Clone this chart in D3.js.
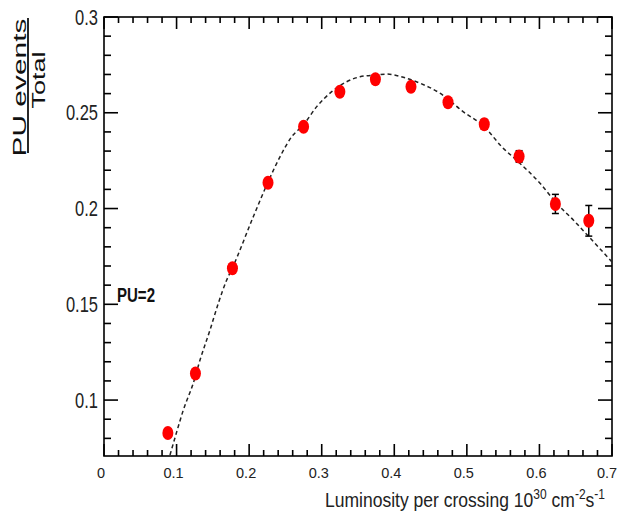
<!DOCTYPE html>
<html><head><meta charset="utf-8">
<script src="https://cdn.jsdelivr.net/npm/d3@7"></script>
<style>body{margin:0;background:#fff} text{font-family:"Liberation Sans",Arial,sans-serif}</style>
</head><body><svg id="c" width="618" height="518"></svg>
<script>
// measured data
const lumi = [0.088,0.126,0.177,0.226,0.275,0.325,0.374,0.423,0.474,0.524,0.572,0.622,0.668];
const ratio = [0.0828,0.1139,0.1688,0.2135,0.2427,0.2610,0.2675,0.2636,0.2555,0.2440,0.2272,0.2024,0.1936];
const ratioErr = [0.002,0.002,0.002,0.002,0.002,0.002,0.002,0.002,0.002,0.0025,0.003,0.005,0.008];
// dashed fit curve
const fitX = [0.0909,0.1002,0.1093,0.1231,0.1323,0.1461,0.1575,0.1691,0.1768,0.2057,0.2256,0.2425,0.2587,0.2747,0.2931,0.3138,0.3344,0.3528,0.3734,0.3896,0.4124,0.4357,0.4630,0.4951,0.5241,0.5480,0.5709,0.6008,0.6238,0.6467,0.6766,0.7000];
const fitY = [0.0713,0.0834,0.0948,0.1089,0.1209,0.1366,0.1505,0.1627,0.1689,0.1957,0.2135,0.2270,0.2375,0.2436,0.2532,0.2610,0.2662,0.2688,0.2697,0.2702,0.2685,0.2654,0.2602,0.2505,0.2427,0.2323,0.2244,0.2132,0.2027,0.1940,0.1818,0.1721];
const xTickValues = [0,0.1,0.2,0.3,0.4,0.5,0.6,0.7];
const xTickLabels = ["0","0.1","0.2","0.3","0.4","0.5","0.6","0.7"];
const yTickValues = [0.1,0.15,0.2,0.25,0.3];
const yTickLabels = ["0.1","0.15","0.2","0.25","0.3"];
const puLabel = "PU=2";

const svg = d3.select("#c");
const x = d3.scaleLinear().domain([0,0.7]).range([104,612]);
const y = d3.scaleLinear().domain([0.0708,0.3]).range([456,17]);
const X0 = x(0), X1 = x(0.7), Y0 = y(0.0708), Y1 = y(0.3);

const xMinor = d3.range(0,0.7001,0.02).map(v=>+v.toFixed(3)).filter(v=>!xTickValues.some(t=>Math.abs(t-v)<1e-6));
const yMinor = d3.range(0.08,0.3001,0.01).map(v=>+v.toFixed(3)).filter(v=>!yTickValues.some(t=>Math.abs(t-v)<1e-6));

const ticks = svg.append("g").attr("stroke","#000").attr("stroke-width",1.6);
function vt(vals,len){
  vals.forEach(v=>{
    ticks.append("line").attr("x1",x(v)).attr("x2",x(v)).attr("y1",Y0).attr("y2",Y0-len);
    ticks.append("line").attr("x1",x(v)).attr("x2",x(v)).attr("y1",Y1).attr("y2",Y1+len);
  });
}
function ht(vals,len){
  vals.forEach(v=>{
    ticks.append("line").attr("y1",y(v)).attr("y2",y(v)).attr("x1",X0).attr("x2",X0+len);
    ticks.append("line").attr("y1",y(v)).attr("y2",y(v)).attr("x1",X1).attr("x2",X1-len);
  });
}
vt(xMinor,6); vt(xTickValues,12); ht(yMinor,7); ht(yTickValues,14);

// tick labels
svg.append("g").selectAll("text").data(xTickValues).join("text")
  .attr("x",(d,i)=>Math.min(x(d)-3, 607)).attr("y",478).attr("text-anchor","middle")
  .attr("font-size",14.5).attr("fill","#222").attr("transform","translate(0,0)").text((d,i)=>xTickLabels[i]);
svg.append("g").selectAll("text").data(yTickValues).join("text")
  .attr("transform",d=>`translate(98,${y(d)}) scale(1,1.32)`).attr("dy","0.35em").attr("text-anchor","end")
  .attr("font-size",16.5).attr("fill","#222").text((d,i)=>yTickLabels[i]);

// frame
svg.append("rect").attr("x",X0).attr("y",Y1).attr("width",X1-X0).attr("height",Y0-Y1)
  .attr("fill","none").attr("stroke","#000").attr("stroke-width",1.6);

// clip
svg.append("clipPath").attr("id","pc").append("rect")
  .attr("x",X0).attr("y",Y1).attr("width",X1-X0).attr("height",Y0-Y1);

// fit curve
const fit = fitX.map((v,i)=>[v,fitY[i]]);
svg.append("path").attr("clip-path","url(#pc)")
  .attr("d",d3.line().x(d=>x(d[0])).y(d=>y(d[1])).curve(d3.curveMonotoneX)(fit))
  .attr("fill","none").attr("stroke","#222").attr("stroke-width",1.5).attr("stroke-dasharray","4,3");

// error bars
const pts = lumi.map((v,i)=>({x:v,y:ratio[i],e:ratioErr[i]}));
const eb = svg.append("g").attr("stroke","#000").attr("stroke-width",1.5);
pts.forEach(p=>{
  eb.append("line").attr("x1",x(p.x)).attr("x2",x(p.x)).attr("y1",y(p.y-p.e)).attr("y2",y(p.y+p.e));
  eb.append("line").attr("x1",x(p.x)-3.5).attr("x2",x(p.x)+3.5).attr("y1",y(p.y-p.e)).attr("y2",y(p.y-p.e));
  eb.append("line").attr("x1",x(p.x)-3.5).attr("x2",x(p.x)+3.5).attr("y1",y(p.y+p.e)).attr("y2",y(p.y+p.e));
});
// markers
svg.append("g").selectAll("ellipse").data(pts).join("ellipse")
  .attr("cx",d=>x(d.x)).attr("cy",d=>y(d.y)).attr("rx",5.5).attr("ry",7).attr("fill","#ff0000");

// PU label
svg.append("text").attr("transform","translate(117,301.5) scale(1,1.4)")
  .attr("font-size",15).attr("font-weight","bold").attr("fill","#111").attr("textLength",38)
  .attr("lengthAdjust","spacingAndGlyphs").text(puLabel);

// x title
const xt = svg.append("text").attr("transform","translate(605,507) scale(1,1.17)")
  .attr("text-anchor","end").attr("font-size",17.5).attr("fill","#222")
  .attr("textLength",280).attr("lengthAdjust","spacingAndGlyphs");
xt.append("tspan").text("Luminosity per crossing 10");
xt.append("tspan").attr("dy",-7).attr("font-size",12).text("30");
xt.append("tspan").attr("dy",7).text(" cm");
xt.append("tspan").attr("dy",-7).attr("font-size",12).text("-2");
xt.append("tspan").attr("dy",7).text("s");
xt.append("tspan").attr("dy",-7).attr("font-size",12).text("-1");

// y title (fraction)
const yt = svg.append("g").attr("transform","translate(26,85.5) rotate(-90)");
yt.append("text").attr("x",-2).attr("y",0).attr("text-anchor","middle").attr("font-size",18.5).attr("fill","#111")
  .attr("textLength",138).attr("lengthAdjust","spacingAndGlyphs").text("PU events");
yt.append("line").attr("x1",-67.5).attr("x2",67.5).attr("y1",2).attr("y2",2).attr("stroke","#111").attr("stroke-width",1.8);
yt.append("text").attr("x",5.5).attr("y",19).attr("text-anchor","middle").attr("font-size",18.5).attr("fill","#111")
  .attr("textLength",57).attr("lengthAdjust","spacingAndGlyphs").text("Total");
</script></body></html>
